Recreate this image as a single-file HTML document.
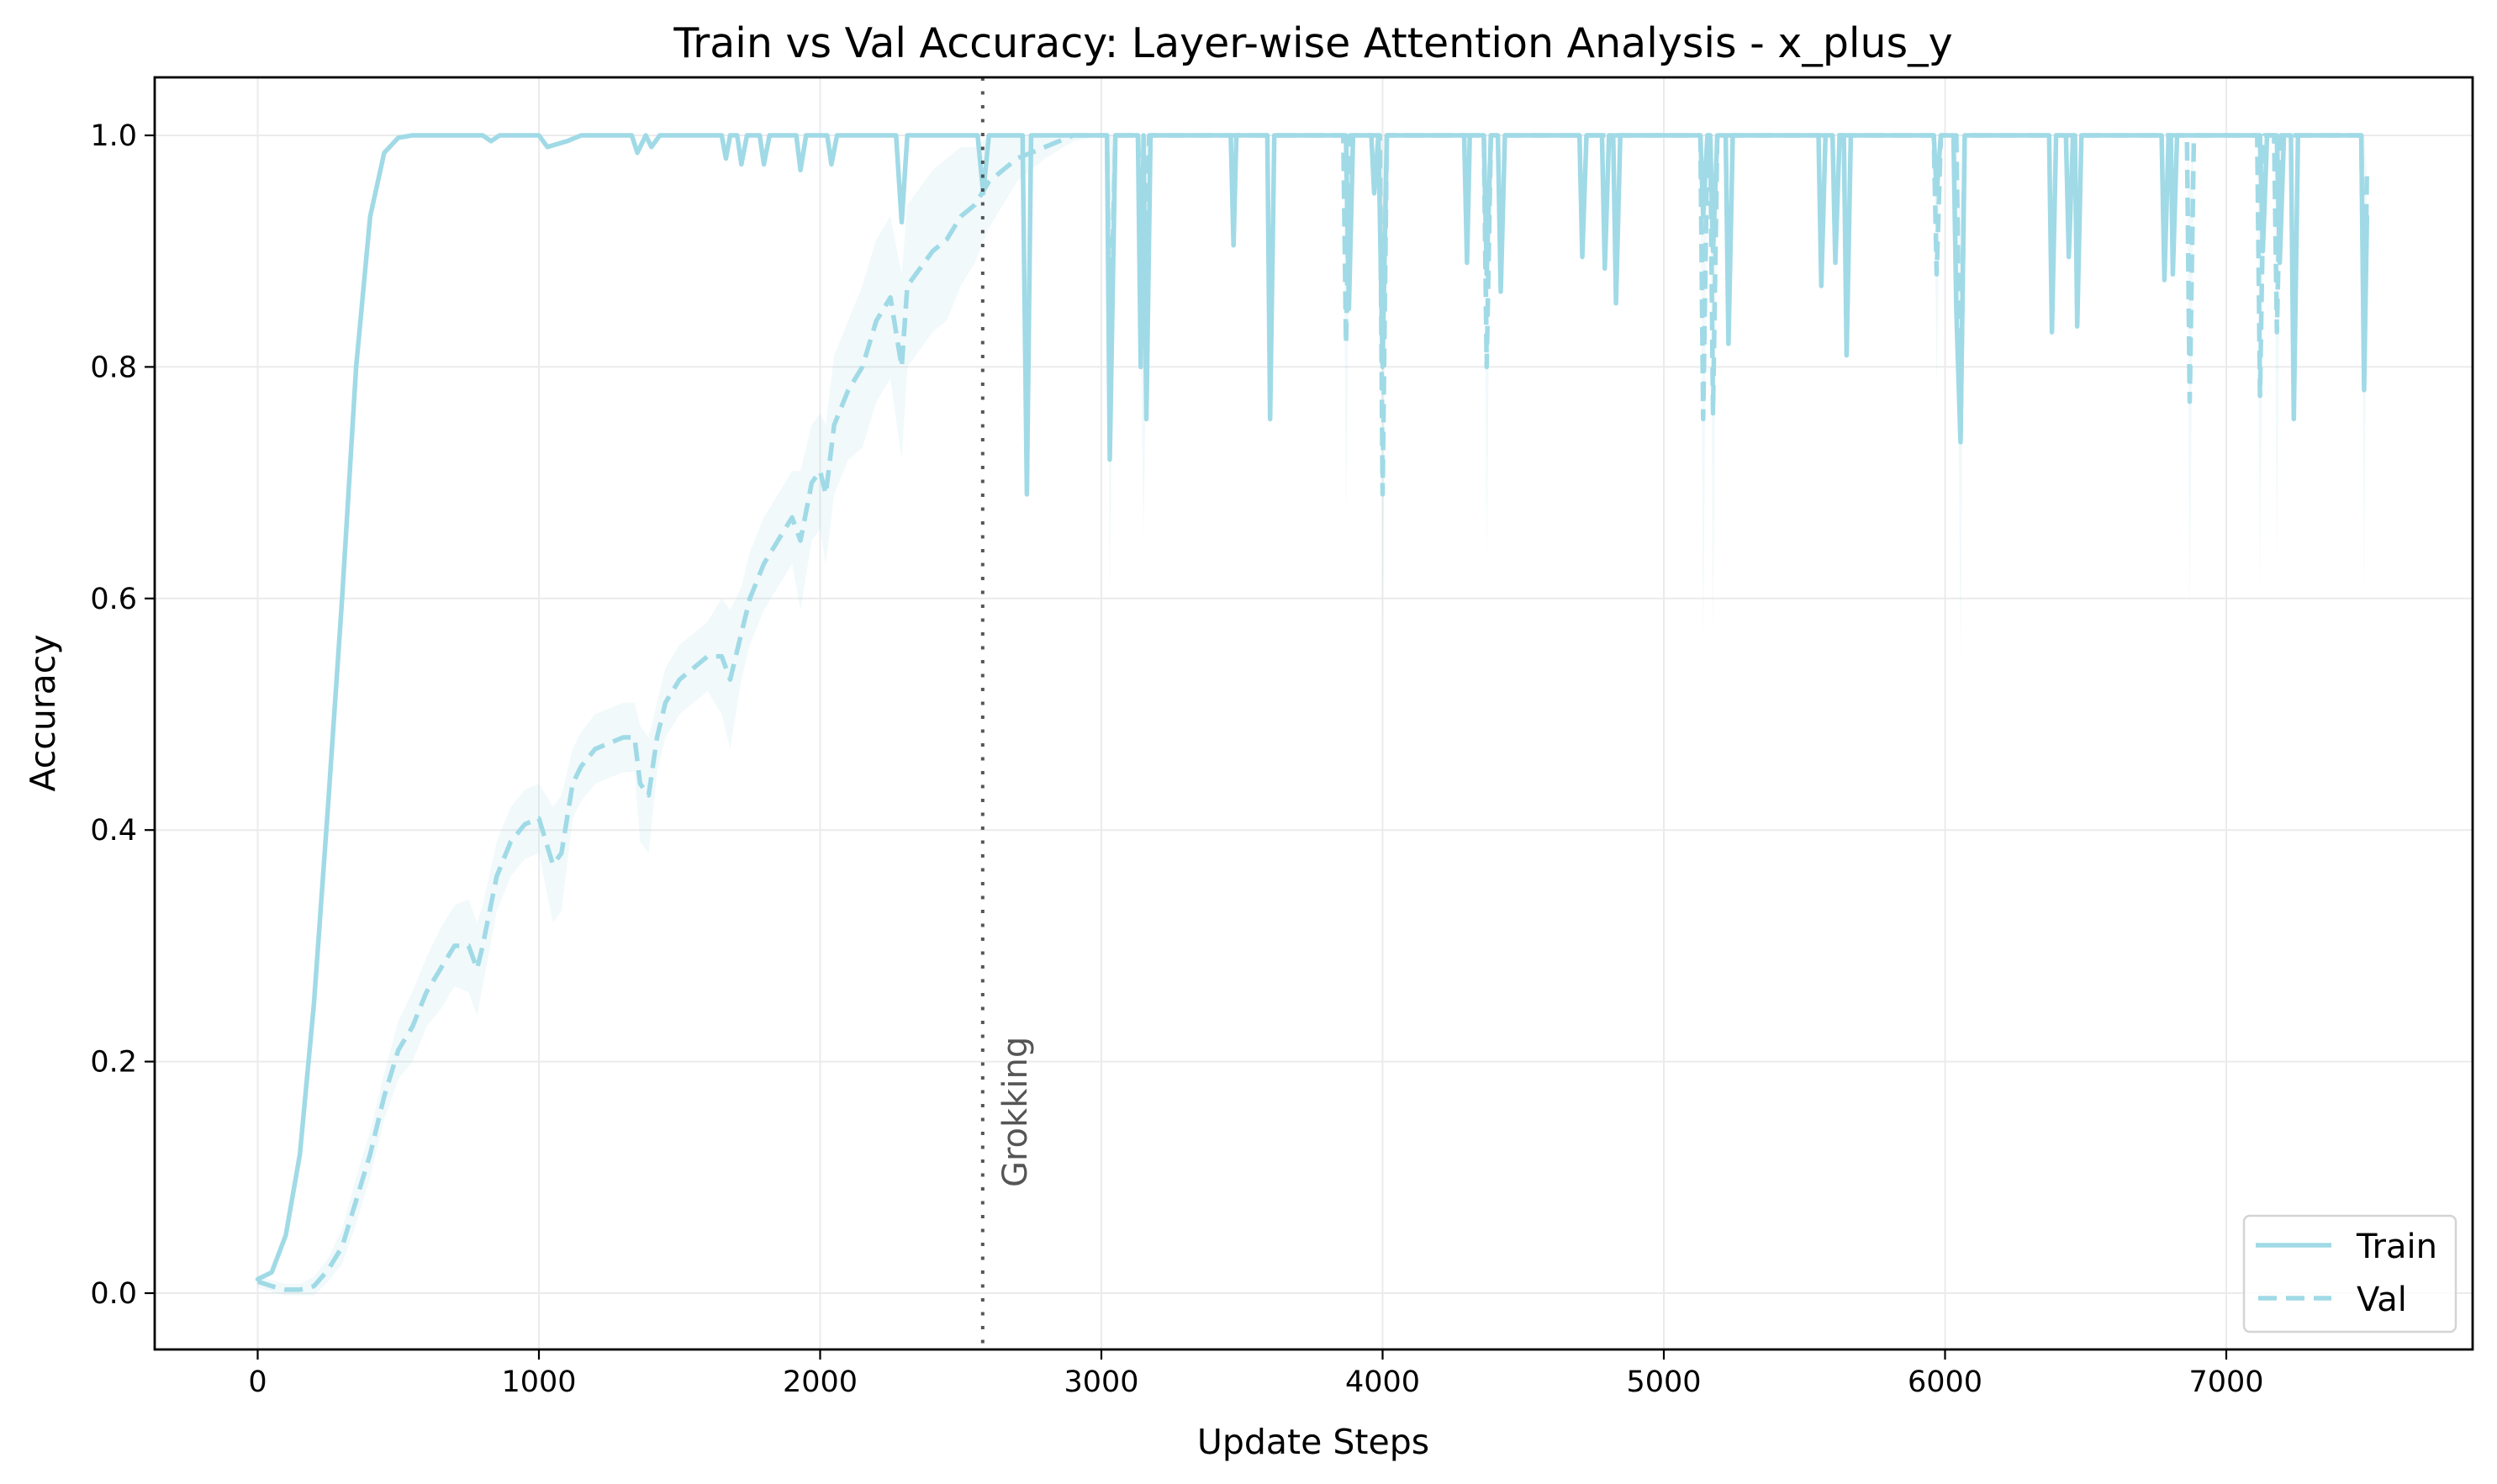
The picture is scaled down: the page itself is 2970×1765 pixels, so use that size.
<!DOCTYPE html>
<html><head><meta charset="utf-8">
<style>
html,body{margin:0;padding:0;background:#fff;}
svg{display:block;font-family:"DejaVu Sans","Liberation Sans",sans-serif;}
</style></head>
<body>
<svg id="chart" width="2970" height="1765" viewBox="0 0 2970 1765" xmlns="http://www.w3.org/2000/svg">
<rect width="2970" height="1765" fill="#fff"/>
<text x="1562" y="68" font-size="49" text-anchor="middle" fill="#000">Train vs Val Accuracy: Layer-wise Attention Analysis - x_plus_y</text>
<g id="grid"></g>
<g id="band"></g>
<g id="lines"></g>
<g id="axes"></g>
<text x="1562" y="1729" font-size="41" text-anchor="middle" fill="#000">Update Steps</text>
<text transform="translate(65,848) rotate(-90)" font-size="41" text-anchor="middle" fill="#000">Accuracy</text>
<g>
<rect x="2669" y="1446" width="252" height="138" rx="7" fill="#fff" fill-opacity="0.8" stroke="#d4d4d4" stroke-width="2.5"/>
<line x1="2683" y1="1481" x2="2773" y2="1481" stroke="#a0dae6" stroke-width="5.5"/>
<text x="2803" y="1496" font-size="40" fill="#000">Train</text>
<line x1="2686" y1="1544" x2="2773" y2="1544" stroke="#a0dae6" stroke-width="5.5" stroke-dasharray="22,11"/>
<text x="2803" y="1559" font-size="40" fill="#000">Val</text>
</g>
</svg>
<script>
const xTicks=[0,1000,2000,3000,4000,5000,6000,7000];
const yTicks=[0.0,0.2,0.4,0.6,0.8,1.0];
const yTickLabels=["0.0","0.2","0.4","0.6","0.8","1.0"];
const grokStep=2578;
const trainSteps=[0,50,100,150,200,250,300,350,400,450,500,550,800,830,860,1000,1030,1100,1150,1330,1350,1380,1400,1430,1650,1665,1680,1705,1720,1740,1785,1800,1820,1915,1930,1950,2025,2040,2060,2270,2290,2310,2560,2580,2600,2720,2735,2750,3020,3030,3050,3130,3140,3150,3160,3175,3460,3470,3480,3590,3600,3615,3870,3880,3895,3960,3970,3985,4000,4015,4290,4300,4310,4360,4370,4385,4410,4420,4435,4700,4710,4725,4780,4790,4805,4820,4830,4845,5130,5140,5155,5165,5175,5190,5220,5230,5245,5550,5560,5575,5600,5610,5625,5640,5650,5665,5960,5970,5985,6030,6040,6055,6070,6370,6380,6395,6430,6440,6455,6462,6470,6485,6770,6780,6795,6803,6810,6825,7120,7130,7145,7180,7190,7205,7230,7240,7255,7480,7490,7500];
const trainAcc=[0.012,0.018,0.05,0.12,0.25,0.42,0.6,0.8,0.93,0.985,0.998,1.0,1.0,0.995,1.0,1.0,0.99,0.995,1.0,1.0,0.985,1.0,0.99,1.0,1.0,0.98,1.0,1.0,0.975,1.0,1.0,0.975,1.0,1.0,0.97,1.0,1.0,0.975,1.0,1.0,0.925,1.0,1.0,0.95,1.0,1.0,0.69,1.0,1.0,0.72,1.0,1.0,0.8,1.0,0.755,1.0,1.0,0.905,1.0,1.0,0.755,1.0,1.0,0.85,1.0,1.0,0.95,1.0,0.8,1.0,1.0,0.89,1.0,1.0,0.88,1.0,1.0,0.865,1.0,1.0,0.895,1.0,1.0,0.885,1.0,1.0,0.855,1.0,1.0,0.93,1.0,1.0,0.9,1.0,1.0,0.82,1.0,1.0,0.87,1.0,1.0,0.89,1.0,1.0,0.81,1.0,1.0,0.95,1.0,1.0,0.85,0.735,1.0,1.0,0.83,1.0,1.0,0.895,1.0,1.0,0.835,1.0,1.0,0.875,1.0,1.0,0.88,1.0,1.0,0.9,1.0,1.0,0.89,1.0,1.0,0.755,1.0,1.0,0.78,0.93];
const valSteps=[0,50,100,150,200,250,300,350,400,450,500,550,600,650,700,750,780,800,850,900,950,1000,1050,1080,1120,1150,1200,1250,1300,1340,1360,1390,1420,1450,1500,1550,1600,1650,1680,1720,1750,1800,1850,1900,1930,1970,2000,2020,2050,2100,2150,2200,2250,2290,2310,2400,2450,2500,2550,2600,2650,2700,2800,2900,3020,3030,3050,3130,3150,3170,3860,3870,3885,3990,4000,4015,4360,4370,4385,5130,5140,5155,5165,5175,5190,5960,5970,5985,6040,6055,6070,6860,6870,6885,7110,7120,7135,7170,7180,7195,7480,7490,7500];
const valAcc=[0.01,0.006,0.003,0.003,0.006,0.02,0.04,0.08,0.12,0.17,0.21,0.23,0.26,0.28,0.3,0.3,0.28,0.3,0.36,0.39,0.405,0.41,0.37,0.38,0.44,0.455,0.47,0.475,0.48,0.48,0.44,0.43,0.48,0.51,0.53,0.54,0.55,0.55,0.53,0.57,0.6,0.63,0.65,0.67,0.65,0.7,0.71,0.69,0.75,0.78,0.8,0.84,0.86,0.8,0.87,0.9,0.91,0.93,0.94,0.96,0.97,0.98,0.99,1.0,1.0,0.8,1.0,1.0,0.85,1.0,1.0,0.82,1.0,1.0,0.69,1.0,1.0,0.8,1.0,1.0,0.755,1.0,1.0,0.76,1.0,1.0,0.88,1.0,1.0,0.74,1.0,1.0,0.77,1.0,1.0,0.775,1.0,1.0,0.83,1.0,1.0,0.8,0.97];
const valStd=[0.005,0.005,0.005,0.005,0.008,0.01,0.015,0.02,0.02,0.02,0.025,0.03,0.03,0.035,0.035,0.04,0.04,0.035,0.03,0.03,0.03,0.03,0.05,0.05,0.03,0.03,0.03,0.03,0.03,0.03,0.05,0.05,0.03,0.03,0.03,0.03,0.03,0.05,0.06,0.04,0.04,0.04,0.04,0.04,0.06,0.05,0.05,0.06,0.06,0.06,0.07,0.07,0.07,0.08,0.07,0.07,0.07,0.06,0.05,0.04,0.03,0.02,0.01,0.005,0.0,0.2,0.0,0.0,0.2,0.0,0.0,0.15,0.0,0.0,0.12,0.0,0.0,0.17,0.0,0.0,0.2,0.0,0.0,0.2,0.0,0.0,0.1,0.0,0.0,0.2,0.0,0.0,0.19,0.0,0.0,0.17,0.0,0.0,0.2,0.0,0.0,0.2,0.0];

const L=184,R=2941,T=92,B=1605;
const X0=306.5,XS=334.5/1000;
const Y0=1538,YS=1377;
function xs(v){return X0+v*XS;}
function ys(v){return Y0-v*YS;}
const NS="http://www.w3.org/2000/svg";
function mk(tag,attrs,parent){const e=document.createElementNS(NS,tag);for(const k in attrs)e.setAttribute(k,attrs[k]);parent.appendChild(e);return e;}
const grid=document.getElementById('grid'),band=document.getElementById('band'),lines=document.getElementById('lines'),axes=document.getElementById('axes');

xTicks.forEach(t=>{
  const g=mk('line',{x1:xs(t),x2:xs(t),y1:T,y2:B,stroke:'#ebebeb','stroke-width':2},grid);
  
  
  const tk=mk('line',{x1:xs(t),x2:xs(t),y1:B,y2:B+12,stroke:'#000','stroke-width':2.2},axes);
  
  
  const tx=mk('text',{x:xs(t),y:B+50,'font-size':35,'text-anchor':'middle',fill:'#000'},axes);
  tx.textContent=String(t);
  
  
});
yTicks.forEach((t,i)=>{
  const g=mk('line',{x1:L,x2:R,y1:ys(t),y2:ys(t),stroke:'#ebebeb','stroke-width':2},grid);
  
  
  const tk=mk('line',{x1:L-12,x2:L,y1:ys(t),y2:ys(t),stroke:'#000','stroke-width':2.2},axes);
  
  
  const tx=mk('text',{x:L-21,y:ys(t)+12,'font-size':35,'text-anchor':'end',fill:'#000'},axes);
  tx.textContent=yTickLabels[i];
  
  
});

let up=[],dn=[];
for(let i=0;i<valSteps.length;i++){
  up.push(xs(valSteps[i]).toFixed(1)+','+ys(Math.min(1.0,valAcc[i]+valStd[i])).toFixed(1));
  dn.push(xs(valSteps[i]).toFixed(1)+','+ys(valAcc[i]-valStd[i]).toFixed(1));
}
const bp=mk('polygon',{points:up.concat(dn.reverse()).join(' '),fill:'#a0dae6','fill-opacity':0.15,stroke:'none'},band);



const tp=mk('polyline',{points:trainSteps.map((s,i)=>xs(s).toFixed(1)+','+ys(trainAcc[i]).toFixed(1)).join(' '),fill:'none',stroke:'#a0dae6','stroke-width':5.5,'stroke-linejoin':'round','stroke-linecap':'round'},lines);


const vp=mk('polyline',{points:valSteps.map((s,i)=>xs(s).toFixed(1)+','+ys(valAcc[i]).toFixed(1)).join(' '),fill:'none',stroke:'#a0dae6','stroke-width':5.5,'stroke-dasharray':'22,11','stroke-linejoin':'round'},lines);



const gl=mk('line',{x1:xs(grokStep),x2:xs(grokStep),y1:T,y2:B,stroke:'#444','stroke-width':4,'stroke-dasharray':'4,12.5','stroke-opacity':0.9},lines);


const gt=mk('text',{transform:'translate('+(xs(grokStep)+52)+',1412) rotate(-90)','font-size':40,fill:'#555'},lines);
gt.textContent='Grokking';



const fr=mk('rect',{x:L,y:T,width:R-L,height:B-T,fill:'none',stroke:'#000','stroke-width':2.8},axes);


</script>
</body></html>
